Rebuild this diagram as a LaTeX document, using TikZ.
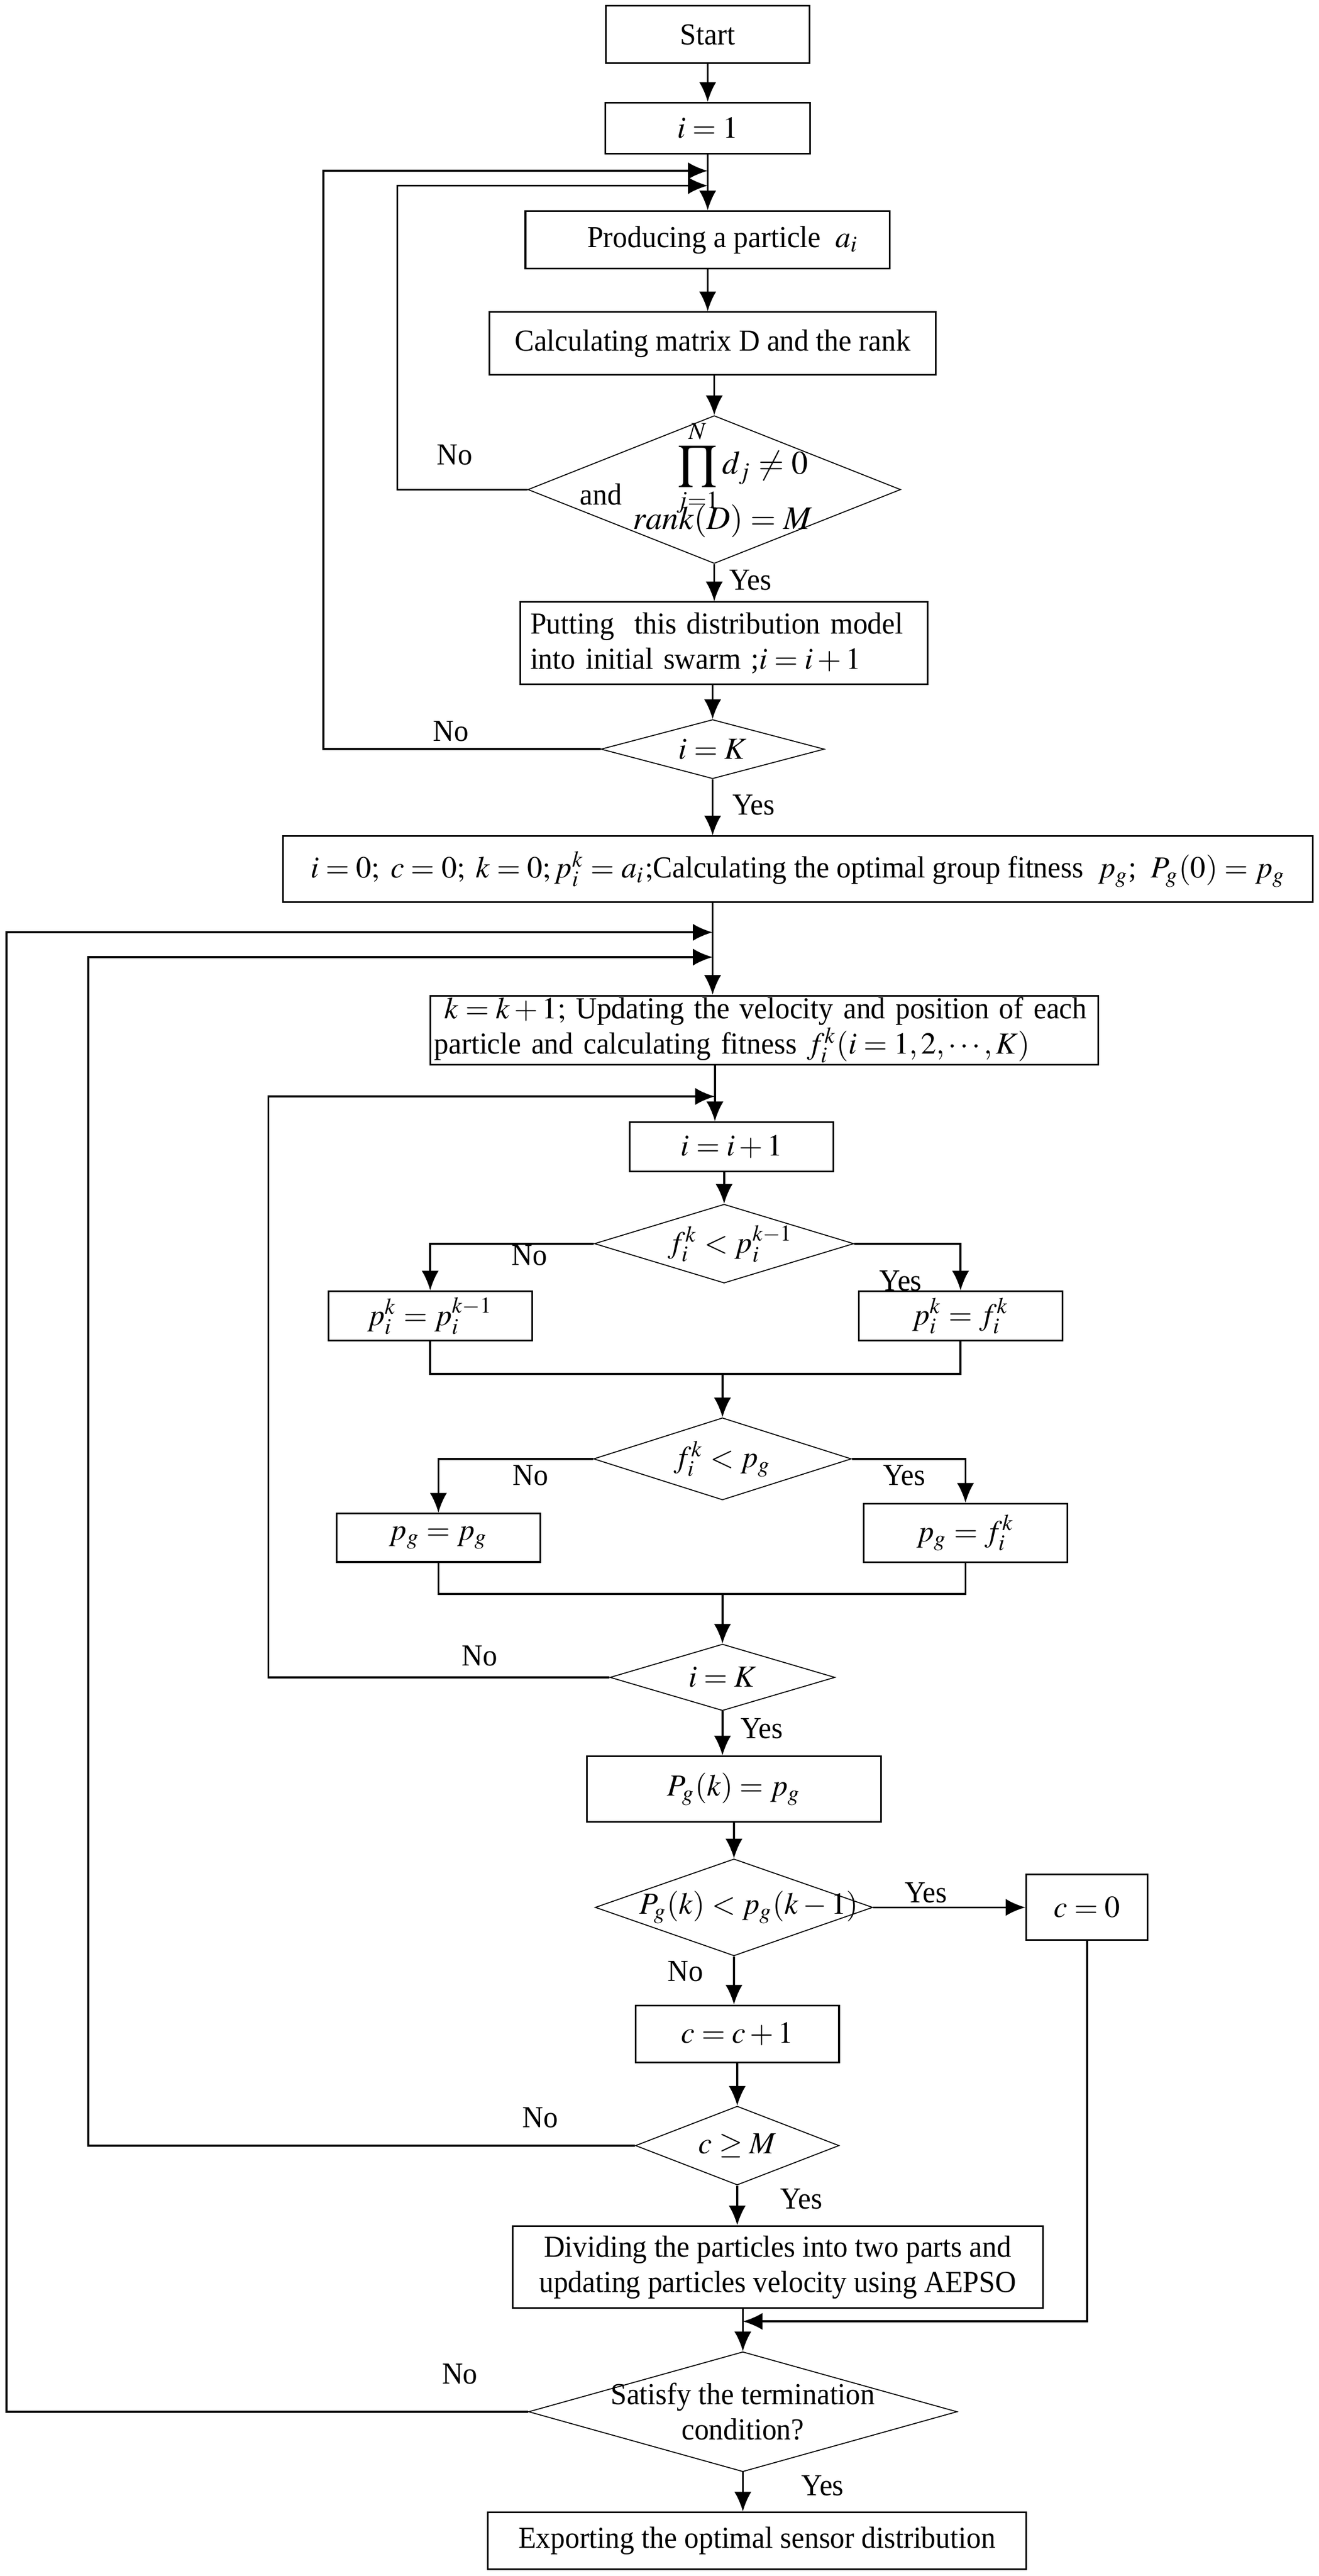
\documentclass[tikz,border=0pt]{standalone}
\usepackage{mathptmx}
\usepackage{fontspec}
\setmainfont{Liberation Serif}[FakeStretch=0.95]
\usetikzlibrary{shapes.geometric,arrows.meta,calc}

\begin{document}
\begin{tikzpicture}[x=0.5pt, y=-0.5pt,
  font=\fontsize{9.3}{10.7}\selectfont,
  box/.style={draw, line width=0.5pt, inner sep=1pt},
  dec/.style={draw, diamond, line width=0.3pt, inner sep=0pt},
  arr/.style={line width=0.6pt, -{Latex[length=6pt,width=5.2pt]}},
  line/.style={line width=0.6pt},
  lab/.style={inner sep=1pt}]

 \useasboundingbox (0,0) rectangle (803,1568);

 %initial swarm
 \node[box, minimum width=62pt, minimum height=17.5pt] (start) at (431,21) {Start};
 \node[box, minimum width=62.5pt, minimum height=15.5pt] (one) at (431,78) {$i=1$};
 \node[box, minimum width=111pt, minimum height=17.5pt] (prod) at (431,146) {\quad Producing a particle \ $a_i$};
 \node[box, minimum width=136pt, minimum height=19pt] (calc) at (434,209) {Calculating matrix D and the rank};
 \node[dec, minimum width=113.5pt, minimum height=45pt] (d1) at (435,298) {};
 \node (d1prod) at (452,285) {\fontsize{10}{12}\selectfont$\displaystyle\prod_{j=1}^{N} d_j \ne 0$};
 \node (d1and) at (366,301) {and};
 \node (d1rank) at (440,317) {\fontsize{10}{12}\selectfont$rank(D)=M$};
 \node[box, minimum width=124pt, minimum height=25pt, align=left, text width=118pt] (put) at (441,391.5)
   {Putting \ this distribution model\\into initial swarm ;$i=i+1$};
 \node[dec, minimum width=68pt, minimum height=18pt, label=center:{$i=K$}] (ik1) at (434,456) {};

 %iteration
 \node[box, minimum width=313.5pt, minimum height=20pt, inner sep=0pt] (init) at (486,529)
   {$i=0;\ c=0;\ k=0; p_i^k=a_i;$Calculating the optimal group fitness \ $p_g$;\ \ $P_g(0)=p_g$};
 \node[box, minimum width=203.5pt, minimum height=20pt, align=left, text width=201pt, inner sep=0.5pt] (upd) at (465.5,627)
   {\ $k=k+1;$ Updating the velocity and position of each\\particle and calculating fitness $f_i^k(i=1,2,\cdots,K)$};
 \node[box, minimum width=62pt, minimum height=15pt] (inc) at (445.6,698) {$i=i+1$};
 \node[dec, minimum width=79pt, minimum height=24pt, label={[xshift=2pt]center:{$f_i^k<p_i^{k-1}$}}] (d2) at (441,757) {};
 \node[box, minimum width=62pt, minimum height=15pt] (pl) at (262,801) {$p_i^k=p_i^{k-1}$};
 \node[box, minimum width=62pt, minimum height=15pt] (pr) at (585,801) {$p_i^k=f_i^k$};
 \node[dec, minimum width=78.5pt, minimum height=25pt, label=center:{$f_i^k<p_g$}] (d3) at (440,888) {};
 \node[box, minimum width=62pt, minimum height=14.75pt] (gl) at (267,936) {$p_g=p_g$};
 \node[box, minimum width=62pt, minimum height=17.8pt] (gr) at (588,933) {$p_g=f_i^k$};
 \node[dec, minimum width=68.5pt, minimum height=20.25pt, label=center:{$i=K$}] (ik2) at (440,1021) {};

 %stagnation
 \node[box, minimum width=89.5pt, minimum height=20pt] (pgk) at (447,1089) {$P_g(k)=p_g$};
 \node[dec, minimum width=84.5pt, minimum height=29.5pt, label={[xshift=4.5pt]center:{$P_g(k)<p_g(k-1)$}}] (d5) at (447,1161) {};
 \node[box, minimum width=37pt, minimum height=20pt] (c0) at (662,1161) {$c=0$};
 \node[box, minimum width=62pt, minimum height=17.35pt] (cinc) at (449,1238) {$c=c+1$};
 \node[dec, minimum width=62pt, minimum height=24pt, label=center:{$c\ge M$}] (d6) at (449,1306) {};
 \node[box, minimum width=161.5pt, minimum height=25pt, align=center] (div) at (473.6,1380)
   {Dividing the particles into two parts and\\updating particles velocity using AEPSO};
 \node[dec, minimum width=130.5pt, minimum height=36.5pt, label={[align=center]center:{Satisfy the termination\\condition?}}] (d7) at (452.4,1468) {};
 \node[box, minimum width=164pt, minimum height=17.35pt] (exp) at (461,1546.6) {Exporting the optimal sensor distribution};

 %junctions
 \coordinate (j1) at (431,104);
 \coordinate (j2) at (431,113);
 \coordinate (j3) at (434,567.5);
 \coordinate (j4) at (434,582.6);
 \coordinate (j5) at (435.4,667.4);
 \coordinate (m1) at (440,836.2);
 \coordinate (m2) at (440,970.3);
 \coordinate (j6) at (452.4,1413);

 %arrows
 \draw[arr] (start) -- (one);
 \draw[arr] (one) -- (prod);
 \draw[arr] (prod.south) -- (prod.south |- calc.north);
 \draw[arr] (d1.north |- calc.south) -- (d1.north);
 \draw[arr] (d1.south) -- (d1.south |- put.north);
 \draw[arr] (ik1.north |- put.south) -- (ik1.north);
 \draw[arr] (ik1.south) -- (ik1.south |- init.north);
 \draw[arr] (init.south -| j3) -- (upd.north -| j3);
 \draw[arr] (upd.south -| j5) -- (inc.north -| j5);
 \draw[arr] (d2.north |- inc.south) -- (d2.north);
 \draw[arr] (d2.west) -| (pl.north);
 \draw[arr] (d2.east) -| (pr.north);
 \draw[line] (pl.south) |- (m1) -| (pr.south);
 \draw[arr] (m1) -- (d3.north);
 \draw[arr] (d3.west) -| (gl.north);
 \draw[arr] (d3.east) -| (gr.north);
 \draw[line] (gl.south) |- (m2) -| (gr.south);
 \draw[arr] (m2) -- (ik2.north);
 \draw[arr] (ik2.south) -- (ik2.south |- pgk.north);
 \draw[arr] (pgk) -- (d5);
 \draw[arr] (d5.east) -- (c0.west);
 \draw[arr] (d5.south) -- (d5.south |- cinc.north);
 \draw[arr] (cinc) -- (d6);
 \draw[arr] (d6.south) -- (d6.south |- div.north);
 \draw[arr] (div.south -| d7) -- (d7.north);
 \draw[arr] (c0.south) |- (j6);
 \draw[arr] (d7.south) -- (d7.south |- exp.north);

 %loops
 \draw[arr] (ik1.west) -| (197,104) -- (j1);
 \draw[arr] (d1.west) -| (242,113) -- (j2);
 \draw[arr] (ik2.west) -| (163.5,667.4) -- (j5);
 \draw[arr] (d6.west) -| (53.8,582.6) -- (j4);
 \draw[arr] (d7.west) -| (4,567.5) -- (j3);

 %yes and no
 \node[lab] (no1) at (277,277) {No};
 \node[lab] (yes1) at (457,353) {Yes};
 \node[lab] (no2) at (274.5,445) {No};
 \node[lab] (yes2) at (459,490) {Yes};
 \node[lab] (no3) at (322.5,764) {No};
 \node[lab] (yes3) at (548.5,779.5) {Yes};
 \node[lab] (no4) at (323,898) {No};
 \node[lab] (yes4) at (550.6,898) {Yes};
 \node[lab] (no5) at (292,1008) {No};
 \node[lab] (yes5) at (464,1052) {Yes};
 \node[lab] (yes6) at (564,1152) {Yes};
 \node[lab] (no6) at (417.5,1200) {No};
 \node[lab] (no7) at (329,1289) {No};
 \node[lab] (yes7) at (488,1338.5) {Yes};
 \node[lab] (no8) at (280,1445) {No};
 \node[lab] (yes8) at (501,1513) {Yes};

\end{tikzpicture}
\end{document}
